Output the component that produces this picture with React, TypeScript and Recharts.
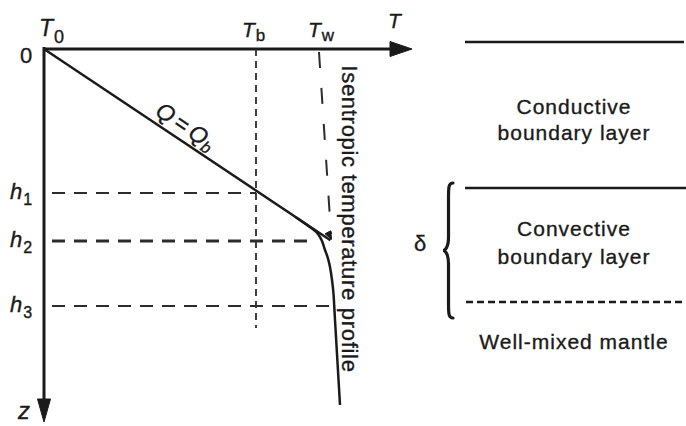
import React from 'react';
import { ComposedChart, Line, XAxis, YAxis, ReferenceDot, ReferenceArea } from 'recharts';

const W = 686;
const H = 426;
const FONT = '"Liberation Sans", Arial, Helvetica, sans-serif';
const INK = '#1a1a1a';
const DASH_INK = '#2c2c2c';
const TEXT_STROKE = 0.35;

// ---- data (T along x, depth z downward) ----
const tAxis = [{ x: 0, z: 0 }, { x: 87.75, z: 0 }];
const zAxis = [{ x: 0, z: -0.5 }, { x: 0, z: 89 }];
const conductiveLine = [{ x: 0, z: 0 }, { x: 71.6, z: 47.8 }];
const isentropicLine = [{ x: 68.75, z: 0.75 }, { x: 71.75, z: 46.25 }];
const profileCurve = [
  { x: 63, z: 42.1 },
  { x: 64.75, z: 43.3 },
  { x: 66, z: 44.2 },
  { x: 67.25, z: 45.1 },
  { x: 68.5, z: 46.25 },
  { x: 69.5, z: 48 },
  { x: 70.25, z: 50.25 },
  { x: 71, z: 52.4 },
  { x: 71.5, z: 54.5 },
  { x: 72, z: 57.75 },
  { x: 72.4, z: 61.5 },
  { x: 72.75, z: 67.75 },
  { x: 74, z: 89 },
];
const tbLine = [{ x: 53, z: 0 }, { x: 53, z: 69.75 }];
const h1Line = [{ x: 2, z: 36 }, { x: 53, z: 36 }];
const h2Line = [{ x: 2, z: 48 }, { x: 66.25, z: 48 }];
const h3Line = [{ x: 2, z: 64.25 }, { x: 72.25, z: 64.25 }];
const layerTop = [{ x: 105.25, z: -1.75 }, { x: 160, z: -1.75 }];
const layerMid = [{ x: 105.25, z: 34.75 }, { x: 160.5, z: 34.75 }];
const layerBottom = [{ x: 105.5, z: 63.25 }, { x: 160.5, z: 63.25 }];

// arrowheads: tip position, direction (deg), length, half width
const arrowHeads = [
  { x: 92, z: 0, angle: 0, len: 22, hw: 7.5 },
  { x: 0, z: 93.25, angle: 90, len: 23, hw: 6.5 },
  { x: 71.9, z: 47.6, angle: 62, len: 8, hw: 3.2 },
];

// brace (delta)
const brace = { x1: 99.75, x2: 102.25, z1: 33.5, z2: 67.25 };

// layer labels
const layerLabels = [
  { x: 132.5, z: 14.25, text: 'Conductive' },
  { x: 132.5, z: 20.75, text: 'boundary layer' },
  { x: 132.5, z: 44.75, text: 'Convective' },
  { x: 132.5, z: 51.75, text: 'boundary layer' },
  { x: 132.5, z: 73, text: 'Well-mixed mantle' },
];

// axis symbol labels
const symbolLabels = [
  { x: -1.25, z: -3.25, main: 'T', sub: '0', size: 23, subSize: 18, subDy: 7 },
  { x: 49.5, z: -3, main: 'T', sub: 'b', size: 21, subSize: 17, subDy: 4 },
  { x: 66, z: -3, main: 'T', sub: 'w', size: 21, subSize: 17, subDy: 4 },
  { x: 86, z: -5.25, main: 'T', sub: '', size: 21, subSize: 16, subDy: 0 },
  { x: -8.5, z: 37.5, main: 'h', sub: '1', size: 22, subSize: 16, subDy: 6 },
  { x: -8.5, z: 49.5, main: 'h', sub: '2', size: 22, subSize: 16, subDy: 6 },
  { x: -8.5, z: 65.75, main: 'h', sub: '3', size: 22, subSize: 16, subDy: 6 },
  { x: -6.5, z: 92.5, main: 'z', sub: '', size: 24, subSize: 15, subDy: 0 },
];

const arrowShape = (angle: number, len: number, hw: number) => (p: any) => {
  const a = (angle * Math.PI) / 180;
  const dx = Math.cos(a), dy = Math.sin(a);
  const bx = p.cx - len * dx, by = p.cy - len * dy;
  const pts = `${p.cx},${p.cy} ${bx - hw * dy},${by + hw * dx} ${bx + hw * dy},${by - hw * dx}`;
  return <polygon points={pts} fill={INK} stroke={INK} strokeWidth={1} strokeLinejoin="round" />;
};

const braceShape = (p: any) => {
  const { x, y, width: w, height: h } = p;
  const xr = x + w;
  const xm = x + w * 0.55;
  const mid = y + h / 2;
  const d = `M ${xr} ${y} C ${xm} ${y} ${xm} ${y + 4} ${xm} ${y + h * 0.12}
    L ${xm} ${mid - h * 0.1} C ${xm} ${mid - 3} ${x + 2} ${mid} ${x} ${mid}
    C ${x + 2} ${mid} ${xm} ${mid + 3} ${xm} ${mid + h * 0.1}
    L ${xm} ${y + h - h * 0.12} C ${xm} ${y + h - 4} ${xm} ${y + h} ${xr} ${y + h}`;
  return <path d={d} fill="none" stroke={INK} strokeWidth={3.2} strokeLinecap="round" />;
};

const lineProps = {
  dataKey: 'z',
  dot: false,
  activeDot: false,
  isAnimationActive: false,
  legendType: 'none' as const,
};

const textStyle = { fontFamily: FONT, fill: INK, stroke: INK, strokeWidth: TEXT_STROKE };

export default function App() {
  return (
    <div style={{ position: 'absolute', left: 0, top: 0, width: W, height: H, background: '#fff' }}>
      <ComposedChart width={W} height={H} margin={{ top: 0, right: 0, bottom: 0, left: 0 }}>
        <XAxis type="number" dataKey="x" domain={[-11, 160.5]} hide allowDataOverflow />
        <YAxis type="number" dataKey="z" domain={[-12.25, 94.25]} reversed hide allowDataOverflow />

        {/* axes */}
        <Line {...lineProps} data={tAxis} stroke={INK} strokeWidth={3} />
        <Line {...lineProps} data={zAxis} stroke={INK} strokeWidth={3} />

        {/* guide dashed lines */}
        <Line {...lineProps} data={tbLine} stroke={DASH_INK} strokeWidth={1.8} strokeDasharray="7 5" />
        <Line {...lineProps} data={h1Line} stroke={DASH_INK} strokeWidth={2} strokeDasharray="13 9" />
        <Line {...lineProps} data={h2Line} stroke={DASH_INK} strokeWidth={3} strokeDasharray="13 9" />
        <Line {...lineProps} data={h3Line} stroke={DASH_INK} strokeWidth={2} strokeDasharray="13 9" />
        <Line {...lineProps} data={isentropicLine} stroke={DASH_INK} strokeWidth={2} strokeDasharray="16 20" />

        {/* temperature profile */}
        <Line {...lineProps} data={conductiveLine} stroke={INK} strokeWidth={2.4} />
        <Line {...lineProps} data={profileCurve} type="monotone" stroke={INK} strokeWidth={2.5} />

        {/* right panel layers */}
        <Line {...lineProps} data={layerTop} stroke={INK} strokeWidth={2.5} />
        <Line {...lineProps} data={layerMid} stroke={INK} strokeWidth={2.5} />
        <Line {...lineProps} data={layerBottom} stroke={INK} strokeWidth={2.3} strokeDasharray="7 4" />

        <ReferenceArea
          x1={brace.x1}
          x2={brace.x2}
          y1={brace.z1}
          y2={brace.z2}
          ifOverflow="visible"
          shape={braceShape}
        />

        {arrowHeads.map((a, i) => (
          <ReferenceDot
            key={`arr${i}`}
            x={a.x}
            y={a.z}
            r={1}
            ifOverflow="visible"
            shape={arrowShape(a.angle, a.len, a.hw)}
          />
        ))}

        <ReferenceDot
          x={-4.5}
          y={1.5}
          r={1}
          ifOverflow="visible"
          shape={(p: any) => (
            <text x={p.cx} y={p.cy} textAnchor="middle" dominantBaseline="central" fontSize={22} {...textStyle}>
              0
            </text>
          )}
        />

        {symbolLabels.map((s, i) => (
          <ReferenceDot
            key={`sym${i}`}
            x={s.x}
            y={s.z}
            r={1}
            ifOverflow="visible"
            shape={(p: any) => (
              <text x={p.cx} y={p.cy} fontSize={s.size} {...textStyle}>
                <tspan fontStyle="italic">{s.main}</tspan>
                {s.sub ? (
                  <tspan fontSize={s.subSize} dy={s.subDy} dx={1}>
                    {s.sub}
                  </tspan>
                ) : null}
              </text>
            )}
          />
        ))}

        <ReferenceDot
          x={35.5}
          y={19.25}
          r={1}
          ifOverflow="visible"
          shape={(p: any) => (
            <text
              x={p.cx}
              y={p.cy}
              textAnchor="middle"
              dominantBaseline="central"
              transform={`rotate(34 ${p.cx} ${p.cy})`}
              fontSize={23}
              {...textStyle}
            >
              <tspan fontStyle="italic">Q</tspan>
              <tspan dx={4}>=</tspan>
              <tspan fontStyle="italic" dx={4}>Q</tspan>
              <tspan fontStyle="italic" fontSize={16} dy={6}>b</tspan>
            </text>
          )}
        />

        <ReferenceDot
          x={76.25}
          y={42.5}
          r={1}
          ifOverflow="visible"
          shape={(p: any) => (
            <text
              x={p.cx}
              y={p.cy}
              textAnchor="middle"
              dominantBaseline="central"
              transform={`rotate(90 ${p.cx} ${p.cy})`}
              fontSize={22}
              letterSpacing={0.7}
              {...textStyle}
            >
              Isentropic temperature profile
            </text>
          )}
        />

        <ReferenceDot
          x={94}
          y={48.5}
          r={1}
          ifOverflow="visible"
          shape={(p: any) => (
            <text x={p.cx} y={p.cy} textAnchor="middle" dominantBaseline="central" fontSize={22} {...textStyle}>
              δ
            </text>
          )}
        />

        {layerLabels.map((l, i) => (
          <ReferenceDot
            key={`lay${i}`}
            x={l.x}
            y={l.z}
            r={1}
            ifOverflow="visible"
            shape={(p: any) => (
              <text
                x={p.cx}
                y={p.cy}
                textAnchor="middle"
                dominantBaseline="central"
                fontSize={21}
                letterSpacing={1}
                {...textStyle}
              >
                {l.text}
              </text>
            )}
          />
        ))}
      </ComposedChart>
    </div>
  );
}
